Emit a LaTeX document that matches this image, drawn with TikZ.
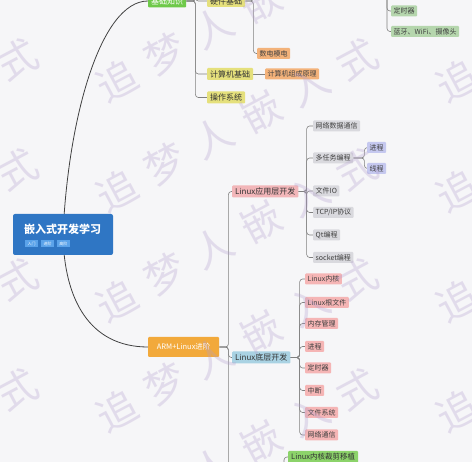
\documentclass[tikz,border=0pt]{standalone}
\usepackage{fontspec}
\setmainfont{Noto Sans CJK SC}
\usetikzlibrary{positioning}
\usetikzlibrary{backgrounds}

\definecolor{paper}{HTML}{F6F6F8}
\definecolor{rootblue}{HTML}{2F76C4}
\definecolor{tagblue}{HTML}{5BA3EA}
\definecolor{basegreen}{HTML}{6EC94A}
\definecolor{lightgreen}{HTML}{B5D6AD}
\definecolor{cutgreen}{HTML}{8CD36A}
\definecolor{yellowish}{HTML}{E5E07C}
\definecolor{orangeish}{HTML}{F3B27A}
\definecolor{armorange}{HTML}{F2A93B}
\definecolor{apppink}{HTML}{F2B6B9}
\definecolor{kernblue}{HTML}{A9D2E3}
\definecolor{leafgrey}{HTML}{D9D9DE}
\definecolor{leafpink}{HTML}{F5B5B5}
\definecolor{lavender}{HTML}{C5C8EF}
\definecolor{wmark}{HTML}{B39FCD}

\tikzstyle{topic}=[rectangle,rounded corners=1pt,anchor=west,inner xsep=3pt,inner ysep=0pt,minimum height=12pt,font=\fontsize{8}{8}\selectfont,text=black!80]
\tikzstyle{leaf}=[rectangle,rounded corners=1pt,anchor=west,inner xsep=2.5pt,inner ysep=0pt,minimum height=11pt,font=\fontsize{7}{7}\selectfont,text=black!75]
\tikzstyle{tag}=[rectangle,fill=tagblue,inner sep=0pt,minimum width=13pt,minimum height=7pt,font=\fontsize{4}{4}\selectfont,text=white]
\tikzstyle{branch}=[draw=black!50,line width=0.6pt,rounded corners=3pt]
\tikzstyle{trunk}=[draw=black!75,line width=0.8pt]

\begin{document}
\begin{tikzpicture}[x=1pt,y=-1pt]  % pixel coordinates, y downwards

\useasboundingbox (0,0) rectangle (472,462);

% root
\node[rectangle,fill=rootblue,rounded corners=2pt,minimum width=100pt,minimum height=41pt] (root) at (63,234.5) {};
\node[anchor=west,inner sep=0pt,text=white,font=\fontsize{11}{11}\selectfont\bfseries] (rootTitle) at (24,229) {嵌入式开发学习};
\node[tag] (tagA) at (31.5,243.5) {入门};
\node[tag] (tagB) at (47.5,243.5) {进阶};
\node[tag] (tagC) at (63.5,243.5) {高阶};

% upper branch
\node[topic,fill=basegreen,text=white,minimum height=13pt] (base) at (148,1) {基础知识};
\node[topic,fill=yellowish] (hw) at (207,1) {硬件基础};
\node[topic,fill=yellowish] (cs) at (207,74) {计算机基础};
\node[topic,fill=yellowish] (os) at (207,97.5) {操作系统};
\node[leaf,fill=orangeish] (analog) at (257,53.5) {数电模电};
\node[leaf,fill=orangeish] (organ) at (265,74) {计算机组成原理};
\node[leaf,fill=lightgreen] (timerHw) at (391,11) {定时器};
\node[leaf,fill=lightgreen] (wireless) at (391,31.5) {蓝牙、WiFi、摄像头};

% lower branch
\node[topic,fill=armorange,text=white,minimum width=71pt,minimum height=20pt,font=\fontsize{7.5}{7.5}\selectfont] (arm) at (148,347) {ARM+Linux进阶};
\node[topic,fill=apppink] (app) at (232,191.5) {Linux应用层开发};
\node[topic,fill=kernblue] (kern) at (232,357.5) {Linux底层开发};
\node[topic,fill=cutgreen,font=\fontsize{7.5}{7.5}\selectfont] (cut) at (288,457) {Linux内核裁剪移植};

\node[leaf,fill=leafgrey] (net) at (313,126) {网络数据通信};
\node[leaf,fill=leafgrey] (multi) at (313,158) {多任务编程};
\node[leaf,fill=leafgrey] (fileio) at (313,191) {文件IO};
\node[leaf,fill=leafgrey] (tcp) at (313,212.5) {TCP/IP协议};
\node[leaf,fill=leafgrey] (qt) at (313,235) {Qt编程};
\node[leaf,fill=leafgrey] (sock) at (313,257.5) {socket编程};
\node[leaf,fill=lavender] (proc) at (367,147.5) {进程};
\node[leaf,fill=lavender] (thread) at (367,168.5) {线程};

\node[leaf,fill=leafpink] (kcore) at (305,279) {Linux内核};
\node[leaf,fill=leafpink] (rootfs) at (305,302.5) {Linux根文件};
\node[leaf,fill=leafpink] (mem) at (305,323.5) {内存管理};
\node[leaf,fill=leafpink] (kproc) at (305,346.5) {进程};
\node[leaf,fill=leafpink] (ktimer) at (305,368) {定时器};
\node[leaf,fill=leafpink] (irq) at (305,390.5) {中断};
\node[leaf,fill=leafpink] (fs) at (305,412.5) {文件系统};
\node[leaf,fill=leafpink] (knet) at (305,435) {网络通信};

% branches that run on past the edges
\coordinate (basemore) at (207,-30);
\coordinate (hwmore) at (257,-30);
\coordinate (periph) at (387,-20);
\coordinate (armmore) at (232,490);
\coordinate (drvmore) at (284,490);

\begin{pgfonlayer}{background}
\fill[paper] (0,0) rectangle (472,462);

\draw[trunk] (root.center) .. controls (68,120) and (100,1) .. (base.west);
\draw[trunk] (root.center) .. controls (64,300) and (90,347) .. (arm.west);

\foreach \kid in {hw,cs,os,basemore}
  \draw[branch] (base.east) -- ++(9,0) |- (\kid);
\foreach \kid in {analog,hwmore}
  \draw[branch] (hw.east) -- ++(8,0) |- (\kid);
\draw[branch] (cs.east) -- (organ.west);
\foreach \kid in {timerHw,wireless}
  \draw[branch] (periph) |- (\kid.west);

\foreach \kid in {app,kern,armmore}
  \draw[branch] (arm.east) -- ++(9,0) |- (\kid);
\foreach \kid in {net,multi,fileio,tcp,qt,sock}
  \draw[branch] (app.east) -- ++(8,0) |- (\kid.west);
\foreach \kid in {proc,thread}
  \draw[branch] (multi.east) -- ++(11,0) |- (\kid.west);
\foreach \kid in {kcore,rootfs,mem,kproc,ktimer,irq,fs,knet}
  \draw[branch] (kern.east) -- ++(9,0) |- (\kid.west);
\draw[branch] (drvmore) |- (cut.west);
\end{pgfonlayer}

% watermark
\foreach \wx in {-223,117,457}
  \foreach \wy in {-30,80,190,300,410,520}
    \foreach \ch [count=\k from 0] in {追,梦,人,嵌,入,式}
      \node[text=wmark,opacity=0.3,rotate=28,font=\fontsize{40}{40}\selectfont] at (\wx+48*\k,\wy-26*\k) {\ch};

\end{tikzpicture}
\end{document}
